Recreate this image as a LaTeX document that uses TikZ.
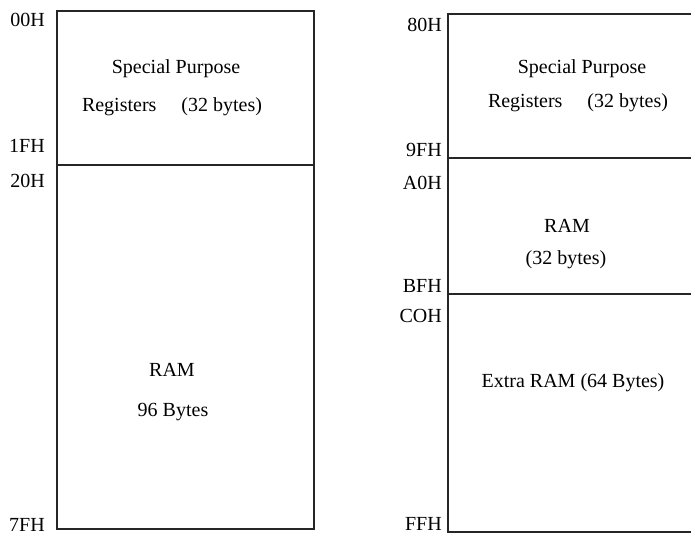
\documentclass[tikz,border=0pt]{standalone}
\usepackage{fontspec}
\setmainfont{Liberation Serif}
\usetikzlibrary{positioning}
\tikzset{
  memline/.style={line width=1.3pt, black!85},
  memtext/.style={anchor=base, inner sep=0pt, font=\fontsize{20}{24}\selectfont},
  addr/.style={anchor=base east, inner sep=0pt, font=\fontsize{20}{24}\selectfont}
}

\begin{document}
\begin{tikzpicture}[x=1pt, y=-1pt]
        \useasboundingbox (0,0) rectangle (691,540);
        % Lower 128 bytes
        \draw[memline] (57,11) rectangle (314,529);
        \draw[memline] (57,165) -- (314,165);
        \foreach \name/\txt/\y in {
            lo00/00H/27,
            lo1F/1FH/153,
            lo20/20H/188,
            lo7F/7FH/531}{
          \node[addr] (\name) at (45,\y) {\txt};
        }
        \node[memtext] (losfrA) at (176,74) {Special Purpose};
        \node[memtext] (losfrB) at (172,112) {Registers\quad\ (32 bytes)};
        \node[memtext] (loramA) at (172,376) {RAM};
        \node[memtext] (loramB) at (173,416) {96 Bytes};
        % Upper 128 bytes
        \draw[memline] (691,14) -- (448,14) -- (448,532) -- (691,532);
        \draw[memline] (448,158) -- (691,158);
        \draw[memline] (448,294) -- (691,294);
        \foreach \name/\txt/\y in {
            hi80/80H/32,
            hi9F/9FH/157,
            hiA0/A0H/190,
            hiBF/BFH/293,
            hiC0/COH/322,
            hiFF/FFH/530}{
          \node[addr] (\name) at (442,\y) {\txt};
        }
        \node[memtext] (hisfrA) at (582,74) {Special Purpose};
        \node[memtext] (hisfrB) at (578,108) {Registers\quad\ (32 bytes)};
        \node[memtext] (hiramA) at (567,233) {RAM};
        \node[memtext] (hiramB) at (566,265) {(32 bytes)};
        \node[memtext] (hiext) at (573,387) {Extra RAM (64 Bytes)};
      \end{tikzpicture}
\end{document}
